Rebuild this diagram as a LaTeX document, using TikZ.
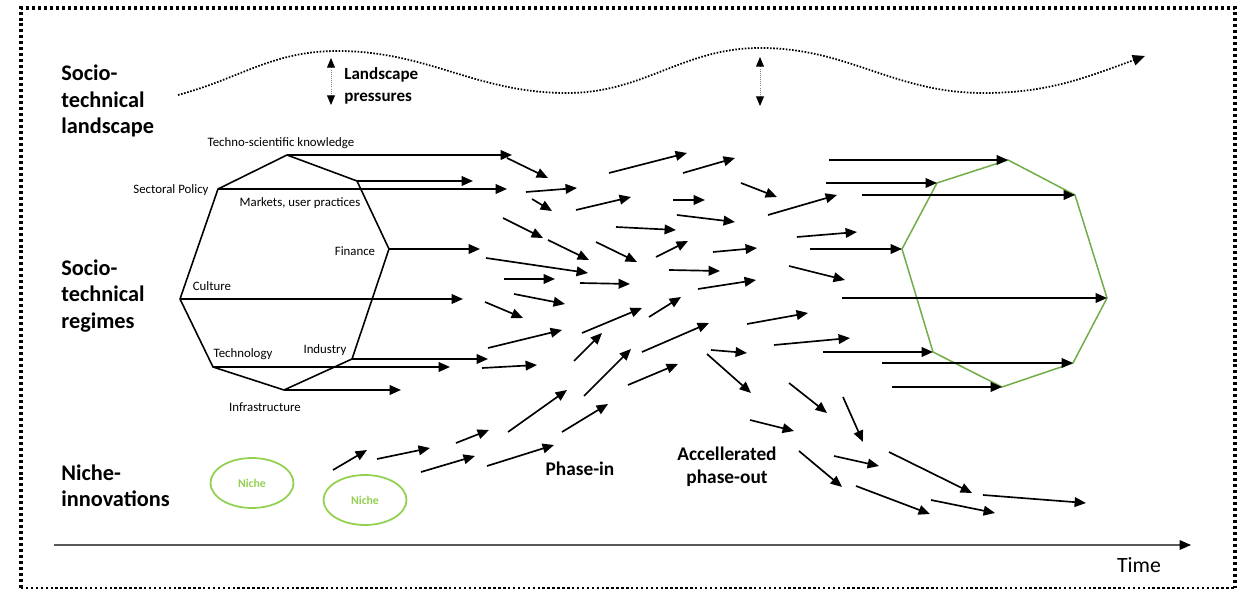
\documentclass[tikz,border=0pt]{standalone}
\usepackage{fontspec}
\setmainfont{Carlito}
\usetikzlibrary{arrows.meta,shapes.geometric}
\definecolor{regimegreen}{HTML}{70AD47}
\definecolor{nichegreen}{HTML}{92D050}
\begin{document}
\begin{tikzpicture}[x=0.02cm, y=-0.02cm,
  levellabel/.style={font=\fontsize{12.7}{15}\selectfont\bfseries, align=left, anchor=west, inner sep=0},
  phaselabel/.style={font=\fontsize{11}{13}\selectfont\bfseries, align=center, inner sep=0},
  dimlabel/.style={font=\fontsize{7.3}{8.5}\selectfont, inner sep=0},
  niche/.style={ellipse, draw=nichegreen, line width=1pt, minimum width=1.66cm,
                minimum height=1cm, inner sep=0, text=nichegreen,
                font=\fontsize{6.7}{8}\selectfont\bfseries},
  flow/.style={->, line width=0.95pt, >={Triangle[length=6.5pt,width=5.5pt]}},
  wave/.style={->, line width=1pt, dash pattern=on 0.9pt off 0.9pt,
               >={Triangle[length=7pt,width=6pt]}},
  pressure/.style={{Triangle[length=5.5pt,width=4.5pt,color=black]}-{Triangle[length=5.5pt,width=4.5pt,color=black]},
                   gray, line width=0.5pt, dash pattern=on 0.6pt off 0.6pt},
  frame/.style={line width=1.8pt, dash pattern=on 1.7pt off 1.7pt}
]
  \useasboundingbox (0,0) rectangle (1240,590);
  \draw[frame] (21,588) -- (21,8) -- (1235,8) -- (1235,588);
  \draw[line width=0.9pt, dash pattern=on 1.4pt off 1.4pt] (21,588) -- (1235,588);

  \node[levellabel] (landscape) at (61,101) {Socio-\\technical\\landscape};
  \node[levellabel] (regimes)   at (61,296) {Socio-\\technical\\regimes};
  \node[levellabel] (niches)    at (61,486) {Niche-\\innovations};

  \draw[wave] (178,95) to[out=15,in=180] (337,51) to[out=0,in=180] (567,93)
        to[out=0,in=180] (760,48) to[out=0,in=180] (983,93) to[out=0,in=200] (1145,56);
  \draw[pressure] (331,58) -- (331,105);
  \draw[pressure] (760,57) -- (760,106);
  \node[font=\fontsize{9.7}{12.5}\selectfont\bfseries, align=left, anchor=west, inner sep=0]
        (pressures) at (344,86) {Landscape\\pressures};

  \coordinate (ts)    at (287,155);
  \coordinate (mk)    at (357,181);
  \coordinate (fi)    at (389,249);
  \coordinate (ind)   at (352,359);
  \coordinate (infra) at (284,390);
  \coordinate (te)    at (213,367);
  \coordinate (cu)    at (180,299);
  \coordinate (sp)    at (218,189);
  \draw[line width=0.9pt, line join=round] (ts) -- (mk) -- (fi) -- (ind) -- (infra) -- (te) -- (cu) -- (sp) -- cycle;
  \node[dimlabel] (tslabel)    at (281,143) {Techno-scientific knowledge};
  \node[dimlabel] (splabel)    at (171,190) {Sectoral Policy};
  \node[dimlabel] (mklabel)    at (300,203) {Markets, user practices};
  \node[dimlabel] (filabel)    at (355,251) {Finance};
  \node[dimlabel] (culabel)    at (212,286) {Culture};
  \node[dimlabel] (telabel)    at (243,354) {Technology};
  \node[dimlabel] (indlabel)   at (325,350) {Industry};
  \node[dimlabel] (infralabel) at (265,407) {Infrastructure};
  \foreach \v/\x in {ts/512, mk/473, sp/507, fi/480, cu/463, ind/488, te/450, infra/401}
    \draw[flow] (\v) -- (\x,0 |- \v);

  \coordinate (g1) at (1008,160);
  \coordinate (g2) at (1075,195);
  \coordinate (g3) at (1107,298);
  \coordinate (g4) at (1073,363);
  \coordinate (g5) at (1002,387);
  \coordinate (g6) at (933,352);
  \coordinate (g7) at (902,249);
  \coordinate (g8) at (937,183);
  \draw[regimegreen, line width=0.85pt] (g1) -- (g2) -- (g3) -- (g4) -- (g5) -- (g6) -- (g7) -- (g8) -- cycle;
  \foreach \v/\x in {g1/829, g2/862, g3/842, g4/882, g5/892, g6/823, g7/810, g8/826}
    \draw[flow] (\x,0 |- \v) -- (\v);

  \foreach \xa/\ya/\xb/\yb in {507/158/548/178, 526/192/577/188, 532/199/552/211,
      609/173/687/153, 683/173/735/158, 741/183/777/197, 576/210/631/197,
      673/200/705/200, 677/215/735/222, 768/215/837/195, 503/218/543/238,
      616/227/676/230, 486/258/588/273, 548/240/589/260, 596/242/637/262,
      656/257/688/241, 713/252/757/248, 797/237/857/232, 789/266/845/280,
      504/279/555/279, 580/283/630/284, 669/270/720/271, 698/289/756/280,
      514/294/565/304, 485/302/523/318, 488/348/562/330, 582/333/642/308,
      649/317/681/297, 747/324/808/313, 774/345/850/338, 482/368/537/365,
      574/361/602/333, 584/396/631/349, 642/352/709/323, 628/385/678/364,
      711/350/747/353, 707/354/751/393}
    \draw[flow] (\xa,\ya) -- (\xb,\yb);

  \foreach \xa/\ya/\xb/\yb in {789/383/827/413, 843/397/863/442, 750/420/794/431,
      799/451/842/487, 834/456/879/466, 889/452/972/493, 856/486/930/514,
      931/500/995/513, 983/495/1086/503}
    \draw[flow] (\xa,\ya) -- (\xb,\yb);

  \node[niche] (niche1) at (252,483) {Niche};
  \node[niche] (niche2) at (365,500) {Niche};
  \foreach \xa/\ya/\xb/\yb in {333/470/367/450, 377/459/430/448, 456/443/489/430,
      421/472/475/456, 487/466/554/445, 508/432/567/390, 562/432/608/404}
    \draw[flow] (\xa,\ya) -- (\xb,\yb);

  \node[phaselabel] (phasein)  at (580,469) {Phase-in};
  \node[phaselabel] (phaseout) at (727,467) {Accellerated\\phase-out};

  \draw[->, black!65, line width=0.7pt, >={Triangle[length=6.5pt,width=5.5pt,color=black]}] (54,545) -- (1191,545);
  \node[font=\fontsize{12.4}{14}\selectfont, inner sep=0] (time) at (1139,565) {Time};
\end{tikzpicture}
\end{document}
